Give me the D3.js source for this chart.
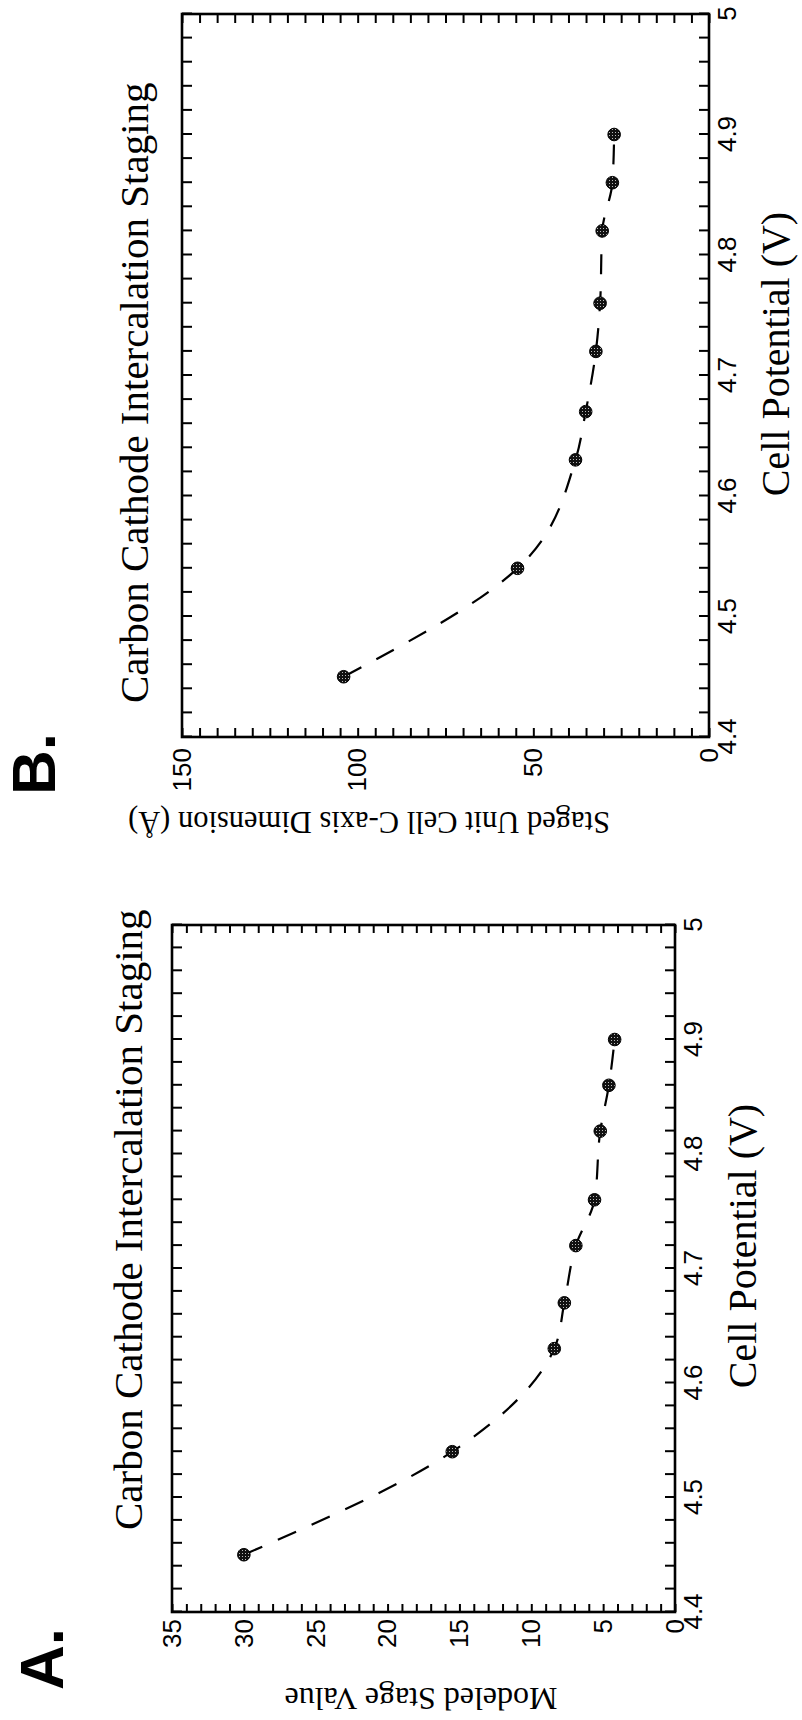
<!DOCTYPE html>
<html><head><meta charset="utf-8">
<script src="https://cdn.jsdelivr.net/npm/d3@7"></script>
<style>html,body{margin:0;padding:0;background:#fff;}</style>
</head><body>
<script>
// ---------------- data ----------------
const potentialA = [4.45, 4.54, 4.63, 4.67, 4.72, 4.76, 4.82, 4.86, 4.90];
const stageA     = [30.0, 15.5, 8.4, 7.7, 6.9, 5.6, 5.2, 4.6, 4.2];
const potentialB = [4.45, 4.54, 4.63, 4.67, 4.72, 4.76, 4.82, 4.86, 4.90];
const cAxisB     = [104, 54.5, 38.0, 35.1, 32.2, 31.0, 30.4, 27.5, 27.0];
const potentialTicks = [4.4, 4.5, 4.6, 4.7, 4.8, 4.9, 5.0];
const stageTicks = [0, 5, 10, 15, 20, 25, 30, 35];
const cAxisTicks = [0, 50, 100, 150];
const titleText = "Carbon Cathode Intercalation Staging";
const xLabel = "Cell Potential (V)";
const yLabelA = "Modeled Stage Value";
const yLabelB = "Staged Unit Cell C-axis Dimension (Å)";

const svg = d3.select("body").append("svg").attr("width", 802).attr("height", 1720);
svg.append("rect").attr("width", 802).attr("height", 1720).attr("fill", "#fff");

// halftone pattern for markers
const defs = svg.append("defs");
const pat = defs.append("pattern").attr("id", "dots").attr("patternUnits", "userSpaceOnUse")
  .attr("width", 3).attr("height", 3);
pat.append("rect").attr("width", 3).attr("height", 3).attr("fill", "#111");
pat.append("rect").attr("x", 1).attr("y", 1).attr("width", 1).attr("height", 1).attr("fill", "#bbb");

const fmtPot = v => String(+v.toFixed(1));

function panel(opt) {
  // drawn in the chart's natural orientation, then rotated -90deg
  const W = opt.bottom - opt.top;   // potential direction
  const H = opt.right - opt.left;   // value direction
  const g = svg.append("g").attr("transform", `translate(${opt.left},${opt.bottom}) rotate(-90)`);
  const x = d3.scaleLinear().domain([4.4, 5.0]).range([0, W]);
  const y = d3.scaleLinear().domain([0, opt.yMax]).range([H, 0]);

  const potMinor = d3.range(0, 31).map(i => +(4.4 + i * 0.02).toFixed(2));
  const isMajorPot = v => potentialTicks.some(t => Math.abs(t - v) < 1e-6);
  const valMinor = d3.range(0, opt.yMax + 1e-9, opt.yMinor);
  const isMajorVal = v => opt.yTicks.includes(v);

  const style = sel => {
    sel.select(".domain").remove();
    sel.selectAll(".tick line").attr("stroke", "#000").attr("stroke-width", 2);
    sel.selectAll(".tick text").attr("fill", "#000")
      .attr("font-family", "'Liberation Sans', Arial, sans-serif").attr("font-size", 26);
  };

  g.append("g").attr("transform", `translate(0,${H})`)
    .call(d3.axisBottom(x).tickValues(potMinor).tickSizeInner(-10).tickSizeOuter(0)
      .tickPadding(9).tickFormat(v => isMajorPot(v) ? fmtPot(v) : ""))
    .call(style);
  g.append("g")
    .call(d3.axisTop(x).tickValues(potMinor).tickSizeInner(-10).tickSizeOuter(0).tickFormat(""))
    .call(style);
  g.append("g")
    .call(d3.axisLeft(y).tickValues(valMinor).tickSizeInner(-opt.yTickLen).tickSizeOuter(0)
      .tickPadding(opt.yPad).tickFormat(v => isMajorVal(v) ? String(v) : ""))
    .call(style);
  g.append("g").attr("transform", `translate(${W},0)`)
    .call(d3.axisRight(y).tickValues(valMinor).tickSizeInner(-opt.yTickLen).tickSizeOuter(0).tickFormat(""))
    .call(style);

  g.append("rect").attr("width", W).attr("height", H)
    .attr("fill", "none").attr("stroke", "#000").attr("stroke-width", 2.6);

  const pts = opt.xs.map((p, i) => [p, opt.ys[i]]);
  g.append("path").datum(pts)
    .attr("d", d3.line().x(d => x(d[0])).y(d => y(d[1])).curve(d3.curveMonotoneX))
    .attr("fill", "none").attr("stroke", "#000").attr("stroke-width", 2.2)
    .attr("stroke-dasharray", "20,17");
  g.selectAll("circle").data(pts).join("circle")
    .attr("cx", d => x(d[0])).attr("cy", d => y(d[1])).attr("r", 6.3)
    .attr("fill", "url(#dots)").attr("stroke", "#000").attr("stroke-width", 1);

  const serif = "'Liberation Serif', 'Times New Roman', serif";
  svg.append("text").attr("transform", `translate(${opt.titleX},${opt.titleY}) rotate(-90)`)
    .attr("font-family", serif).attr("font-size", 41).attr("text-anchor", "start").text(titleText);
  svg.append("text").attr("transform", `translate(${opt.xlabX},${opt.xlabY}) rotate(-90)`)
    .attr("font-family", serif).attr("font-size", 40).attr("text-anchor", "middle").text(xLabel);
  svg.append("text").attr("transform", `translate(${opt.ylabX},${opt.ylabY}) rotate(180)`)
    .attr("font-family", serif).attr("font-size", opt.ylabSize).attr("text-anchor", "middle").text(opt.ylab);
  svg.append("text").attr("transform", `translate(${opt.letterX},${opt.letterY}) rotate(-90)`)
    .attr("font-family", "'Liberation Sans', Arial, sans-serif").attr("font-weight", "bold")
    .attr("font-size", 62).text(opt.letter);
}

panel({ left: 182, right: 709, top: 14, bottom: 737, yMax: 150, yMinor: 5, yTicks: cAxisTicks,
  yTickLen: 9, yPad: 11, xs: potentialB, ys: cAxisB,
  titleX: 148, titleY: 703, xlabX: 789, xlabY: 354,
  ylab: yLabelB, ylabX: 369, ylabY: 812, ylabSize: 30.5, letter: "B.", letterX: 55, letterY: 795 });

panel({ left: 172, right: 675, top: 925, bottom: 1612, yMax: 35, yMinor: 1, yTicks: stageTicks,
  yTickLen: 8, yPad: 7, xs: potentialA, ys: stageA,
  titleX: 142, titleY: 1530, xlabX: 756, xlabY: 1246,
  ylab: yLabelA, ylabX: 421, ylabY: 1688, ylabSize: 32, letter: "A.", letterX: 63, letterY: 1690 });
</script>
</body></html>
